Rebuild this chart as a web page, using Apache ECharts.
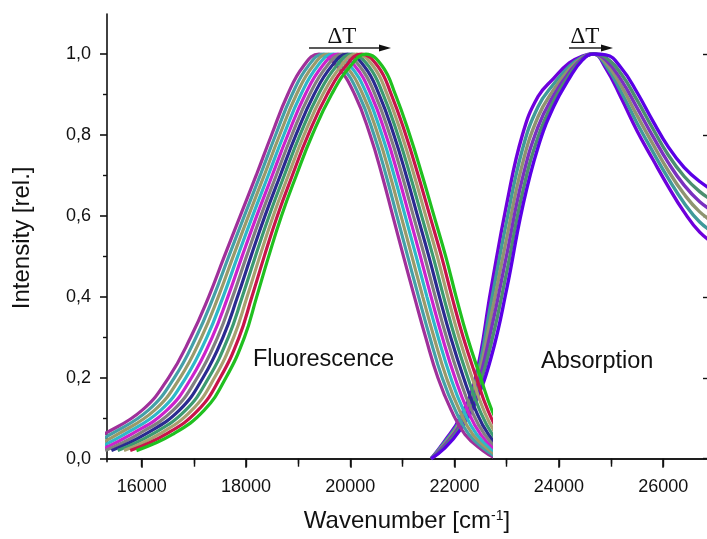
<!DOCTYPE html>
<html><head><meta charset="utf-8">
<script src="https://cdn.jsdelivr.net/npm/echarts@6/dist/echarts.min.js"></script>
<style>html,body{margin:0;padding:0;background:#fff}#c{width:707px;height:539px}</style>
</head><body><div id="c"></div>
<script>
// ---- axis ticks / labels ----
const xTickValues = [16000, 18000, 20000, 22000, 24000, 26000];
const xMinorTickValues = [17000, 19000, 21000, 23000, 25000];
const xTopTickValues = [16000, 17000, 18000, 19000, 20000, 21000, 22000, 23000, 24000, 25000, 26000];
const yTickValues = [0, 0.2, 0.4, 0.6, 0.8, 1.0];
const yMinorTickValues = [0.1, 0.3, 0.5, 0.7, 0.9];
const xRange = [15335, 26840];
const yRange = [-0.0074, 1.099];
const fluorCutoff = 22685;

// ---- Fluorescence: shared intensity levels, wavenumber of each curve at each level ----
const fluorLevels = [0.02,0.06,0.12,0.2,0.3,0.4,0.5,0.6,0.7,0.8,0.9,0.97,1.0,0.97,0.9,0.8,0.7,0.6,0.5,0.4,0.3,0.2,0.12,0.06,0.02,0.0];
const fluor0 = [14700,15270,16010,16515,16940,17285,17585,17890,18195,18490,18800,19100,19400,19745,20085,20380,20610,20815,21020,21230,21445,21680,21935,22200,22545,22800];
const fluor1 = [14820,15402,16129,16625,17043,17377,17670,17969,18272,18568,18884,19190,19490,19832,20163,20456,20687,20894,21101,21310,21525,21762,22013,22275,22611,22860];
const fluor2 = [14940,15534,16248,16735,17146,17469,17755,18048,18349,18646,18968,19280,19580,19919,20241,20532,20764,20973,21182,21390,21605,21844,22091,22350,22677,22920];
const fluor3 = [15060,15666,16367,16845,17249,17561,17840,18127,18426,18724,19052,19370,19670,20006,20319,20608,20841,21052,21263,21470,21685,21926,22169,22425,22743,22980];
const fluor4 = [15180,15798,16486,16955,17352,17653,17925,18206,18503,18802,19136,19460,19760,20093,20397,20684,20918,21131,21344,21550,21765,22008,22247,22500,22809,23040];
const fluor5 = [15300,15930,16605,17065,17455,17745,18010,18285,18580,18880,19220,19550,19850,20180,20475,20760,20995,21210,21425,21630,21845,22090,22325,22575,22875,23100];
const fluor6 = [15420,16062,16724,17175,17558,17837,18095,18364,18657,18958,19304,19640,19940,20267,20553,20836,21072,21289,21506,21710,21925,22172,22403,22650,22941,23160];
const fluor7 = [15540,16194,16843,17285,17661,17929,18180,18443,18734,19036,19388,19730,20030,20354,20631,20912,21149,21368,21587,21790,22005,22254,22481,22725,23007,23220];
const fluor8 = [15660,16326,16962,17395,17764,18021,18265,18522,18811,19114,19472,19820,20120,20441,20709,20988,21226,21447,21668,21870,22085,22336,22559,22800,23073,23280];
const fluor9 = [15780,16458,17081,17505,17867,18113,18350,18601,18888,19192,19556,19910,20210,20528,20787,21064,21303,21526,21749,21950,22165,22418,22637,22875,23139,23340];
const fluor10 = [15900,16590,17200,17615,17970,18205,18435,18680,18965,19270,19640,20000,20300,20615,20865,21140,21380,21605,21830,22030,22245,22500,22715,22950,23205,23400];
const fluorCurves = [fluor0, fluor1, fluor2, fluor3, fluor4, fluor5, fluor6, fluor7, fluor8, fluor9, fluor10];

// ---- Absorption: shared wavenumber grid, intensity of each curve ----
const absWavenumbers = [21550,21800,22100,22400,22700,23000,23300,23600,23900,24200,24450,24660,24900,25200,25500,25800,26100,26400,26700,27000];
const abs0 = [0,0.042,0.100,0.200,0.420,0.630,0.800,0.895,0.940,0.978,0.995,1,0.965,0.890,0.810,0.740,0.672,0.610,0.560,0.530];
const abs1 = [0,0.039,0.094,0.188,0.386,0.588,0.764,0.870,0.926,0.970,0.993,1,0.972,0.905,0.829,0.759,0.692,0.632,0.585,0.556];
const abs2 = [0,0.035,0.088,0.176,0.352,0.546,0.728,0.845,0.912,0.963,0.991,1,0.978,0.920,0.848,0.778,0.711,0.654,0.610,0.582];
const abs3 = [0,0.032,0.082,0.164,0.318,0.504,0.692,0.820,0.898,0.955,0.989,1,0.985,0.935,0.867,0.797,0.731,0.676,0.635,0.608];
const abs4 = [0,0.028,0.076,0.152,0.284,0.462,0.656,0.795,0.884,0.948,0.987,1,0.991,0.950,0.886,0.816,0.750,0.698,0.660,0.634];
const abs5 = [0,0.025,0.070,0.140,0.250,0.420,0.620,0.770,0.870,0.940,0.985,1,0.998,0.965,0.905,0.835,0.770,0.720,0.685,0.660];
const absCurves = [abs0, abs1, abs2, abs3, abs4, abs5];

// ---- styles ----
const fluorColors = ['#A0309A','#44A0A8','#9A9A6A','#2FB8C8','#CC22CC','#808080','#2A2A90','#3C9A70','#A8A070','#C8144A','#20C020'];
const absColors = ['#6E00DC','#3F9A9A','#8F9470','#7A30C0','#4C8F6F','#5A00E6'];
const FONT = '"Liberation Sans", Arial, sans-serif';
const AX = '#111';

const chart = echarts.init(document.getElementById('c'), null, {renderer: 'canvas'});
const fmtY = v => (Math.round(v * 10) / 10).toFixed(1).replace('.', ',');
const fmtX = v => String(Math.round(v));

const series = [];
absCurves.forEach((ys, k) => {
  series.push({
    type: 'line', xAxisIndex: 0, yAxisIndex: 0,
    data: absWavenumbers.map((x, i) => [x, ys[i]]),
    showSymbol: false, symbol: 'none', smooth: 0.45,
    lineStyle: {width: 3.4, color: absColors[k]}, silent: true, z: 2
  });
});
fluorCurves.forEach((xs, k) => {
  series.push({
    type: 'line', xAxisIndex: 3, yAxisIndex: 3,
    data: fluorLevels.map((y, i) => [xs[i], y]),
    showSymbol: false, symbol: 'none', smooth: 0.45,
    lineStyle: {width: 3.2, color: fluorColors[k]}, silent: true, z: 3
  });
});

const plotWidth = 600;
const fluorWidth = (fluorCutoff - xRange[0]) / (xRange[1] - xRange[0]) * plotWidth;

chart.setOption({
  animation: false,
  backgroundColor: '#fff',
  grid: [
    {left: 107, top: 14, bottom: 77.3, width: plotWidth},
    {left: 107, top: 14, bottom: 77.3, width: fluorWidth}
  ],
  xAxis: [
    {
      gridIndex: 0, type: 'value', position: 'bottom', min: xRange[0], max: xRange[1],
      axisLine: {show: true, lineStyle: {color: AX, width: 1.6}},
      axisTick: {show: true, customValues: xTickValues, length: 9, lineStyle: {color: AX, width: 1.6}},
      axisLabel: {customValues: xTickValues, formatter: fmtX, fontSize: 18, color: AX, fontFamily: FONT, margin: 16},
      splitLine: {show: false},
      name: 'Wavenumber [cm{sup|-1}]', nameLocation: 'middle', nameGap: 47,
      nameTextStyle: {fontSize: 24, color: AX, fontFamily: FONT,
        rich: {sup: {fontSize: 14, color: AX, fontFamily: FONT, verticalAlign: 'bottom', padding: [0, 0, 11, 0]}}}
    },
    {
      gridIndex: 0, type: 'value', position: 'bottom', min: xRange[0], max: xRange[1],
      axisLine: {show: false},
      axisTick: {show: true, customValues: xMinorTickValues, length: 5, lineStyle: {color: AX, width: 1.4}},
      axisLabel: {show: false}, splitLine: {show: false}
    },
    {
      gridIndex: 0, type: 'value', position: 'top', min: xRange[0], max: xRange[1],
      axisLine: {show: true, lineStyle: {color: AX, width: 1.6}},
      axisTick: {show: true, inside: true, customValues: xTopTickValues, length: 8, lineStyle: {color: AX, width: 1.4}},
      axisLabel: {show: false}, splitLine: {show: false}
    },
    {gridIndex: 1, type: 'value', min: xRange[0], max: fluorCutoff, show: false}
  ],
  yAxis: [
    {
      gridIndex: 0, type: 'value', position: 'left', min: yRange[0], max: yRange[1],
      axisLine: {show: true, lineStyle: {color: AX, width: 1.6}},
      axisTick: {show: true, customValues: yTickValues, length: 7, lineStyle: {color: AX, width: 1.6}},
      axisLabel: {customValues: yTickValues, formatter: fmtY, fontSize: 18, color: AX, fontFamily: FONT, margin: 16},
      splitLine: {show: false},
      name: 'Intensity [rel.]', nameLocation: 'middle', nameGap: 73, nameRotate: 90,
      nameTextStyle: {fontSize: 24, color: AX, fontFamily: FONT}
    },
    {
      gridIndex: 0, type: 'value', position: 'left', min: yRange[0], max: yRange[1],
      axisLine: {show: false},
      axisTick: {show: true, customValues: yMinorTickValues, length: 4, lineStyle: {color: AX, width: 1.4}},
      axisLabel: {show: false}, splitLine: {show: false}
    },
    {
      gridIndex: 0, type: 'value', position: 'right', min: yRange[0], max: yRange[1],
      axisLine: {show: false},
      axisTick: {show: true, inside: true, customValues: yTickValues, length: 4, lineStyle: {color: AX, width: 1.4}},
      axisLabel: {show: false}, splitLine: {show: false}
    },
    {gridIndex: 1, type: 'value', min: yRange[0], max: yRange[1], show: false}
  ],
  series: series,
  graphic: [
    {type: 'text', x: 253, y: 360, z: 10, style: {text: 'Fluorescence', font: '23.5px ' + FONT, fill: AX, textAlign: 'left', textVerticalAlign: 'middle'}},
    {type: 'text', x: 541, y: 362, z: 10, style: {text: 'Absorption', font: '23.5px ' + FONT, fill: AX, textAlign: 'left', textVerticalAlign: 'middle'}},
    {type: 'text', x: 342, y: 37, z: 10, style: {text: 'ΔT', font: '23px "Liberation Serif", "Times New Roman", serif', fill: AX, textAlign: 'center', textVerticalAlign: 'middle'}},
    {type: 'text', x: 585, y: 37, z: 10, style: {text: 'ΔT', font: '23px "Liberation Serif", "Times New Roman", serif', fill: AX, textAlign: 'center', textVerticalAlign: 'middle'}},
    {type: 'line', z: 10, shape: {x1: 309, y1: 48, x2: 381, y2: 48}, style: {stroke: '#222', lineWidth: 1.5}},
    {type: 'polygon', z: 10, shape: {points: [[379, 44.5], [391, 48], [379, 51.5]]}, style: {fill: '#111'}},
    {type: 'line', z: 10, shape: {x1: 569, y1: 48, x2: 603, y2: 48}, style: {stroke: '#222', lineWidth: 1.5}},
    {type: 'polygon', z: 10, shape: {points: [[601, 44.5], [613, 48], [601, 51.5]]}, style: {fill: '#111'}}
  ]
});
</script>
</body></html>
